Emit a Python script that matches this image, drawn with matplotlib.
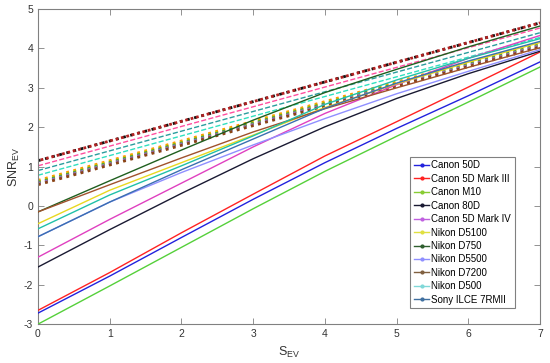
import matplotlib
matplotlib.use("Agg")
import matplotlib.pyplot as plt
from matplotlib.lines import Line2D

plt.rcParams['font.family'] = ['Liberation Sans', 'DejaVu Sans']
plt.rcParams['axes.unicode_minus'] = False

# ===== data =====
s_ev = [0, 1, 2, 3, 4, 5, 6, 7]

cameras = ["Canon 50D", "Canon 5D Mark III", "Canon M10", "Canon 80D",
           "Canon 5D Mark IV", "Nikon D5100", "Nikon D750", "Nikon D5500",
           "Nikon D7200", "Nikon D500", "Sony ILCE 7RMII"]

snr_canon_50d = [-2.72, -1.78, -0.80, 0.17, 1.10, 1.97, 2.80, 3.66]
snr_canon_5d3 = [-2.65, -1.69, -0.68, 0.30, 1.27, 2.14, 3.02, 3.91]
snr_canon_m10 = [-3.00, -2.03, -1.05, -0.07, 0.88, 1.77, 2.64, 3.53]
snr_canon_80d = [-1.55, -0.60, 0.32, 1.20, 2.01, 2.73, 3.36, 3.93]
snr_canon_5d4 = [-1.30, -0.34, 0.58, 1.50, 2.35, 3.08, 3.75, 4.33]
snr_nikon_d5100 = [-0.45, 0.40, 1.10, 1.80, 2.50, 3.10, 3.65, 4.15]
snr_nikon_d750 = [-0.15, 0.64, 1.42, 2.18, 2.88, 3.47, 4.04, 4.57]
snr_nikon_d5500 = [-0.78, 0.10, 0.85, 1.55, 2.22, 2.85, 3.42, 3.97]
snr_nikon_d7200 = [-0.15, 0.54, 1.22, 1.88, 2.47, 3.00, 3.52, 4.02]
snr_nikon_d500 = [-0.58, 0.28, 1.02, 1.78, 2.58, 3.20, 3.75, 4.25]
snr_sony_7rm2 = [-0.78, 0.10, 0.92, 1.70, 2.48, 3.12, 3.68, 4.18]

# ideal (shot-noise only) lines: values at S_EV = 0 and 7
ideal_x = [0, 7]
ideal_start = [1.15, 1.15, 1.02, 0.90, 0.78, 0.65, 0.62, 0.60, 0.58, 0.56, 0.54]
ideal_end = [4.65, 4.65, 4.52, 4.40, 4.28, 4.15, 4.12, 4.10, 4.08, 4.06, 4.04]

# ===== styles =====
solid_colors = ["#2222dd", "#ff2222", "#55d03a", "#1a1a33", "#e040c0", "#e8d820",
                "#1f5f1f", "#8f8fff", "#a0522d", "#20c0a8", "#3a6fb0"]
legend_colors = ["#2222dd", "#ff2222", "#88cc33", "#1a1a33", "#c060e0", "#e0e040",
                 "#2f5f2f", "#8f8fff", "#806040", "#80d8d8", "#4070a0"]
ideal_colors = ["#111111", "#b22222", "#ff4fa0", "#2a9d9d", "#30e0c0", "#ff9900",
                "#d8c000", "#33aa33", "#808080", "#9966cc", "#8b4513"]
ideal_styles = [":", (1.0, (1.0, 1.0)), "--", "--", "--", ":", ":", ":", ":", ":", ":"]
ideal_widths = [2.0, 2.0, 1.0, 1.0, 1.0, 2.0, 2.0, 2.0, 2.0, 2.0, 2.0]

series = [snr_canon_50d, snr_canon_5d3, snr_canon_m10, snr_canon_80d, snr_canon_5d4,
          snr_nikon_d5100, snr_nikon_d750, snr_nikon_d5500, snr_nikon_d7200,
          snr_nikon_d500, snr_sony_7rm2]

fig = plt.figure(figsize=(5.5, 3.63), dpi=100)
ax = fig.add_axes([0.069, 0.107, 0.913, 0.868])

for i in range(len(ideal_start)):
    ax.plot(ideal_x, [ideal_start[i], ideal_end[i]], color=ideal_colors[i],
            linestyle=ideal_styles[i], linewidth=ideal_widths[i], zorder=2)

for vals, col in zip(series, solid_colors):
    ax.plot(s_ev, vals, color=col, linewidth=1.0, zorder=3)

ax.set_xlim(0, 7)
ax.set_ylim(-3, 5)
ax.set_xticks(range(0, 8))
ax.set_yticks(range(-3, 6))

gray = "#808080"
for sp in ax.spines.values():
    sp.set_color(gray)
    sp.set_linewidth(0.8)
ax.tick_params(axis='both', which='major', direction='in', top=True, right=True,
               length=4, width=0.6, color=gray, labelsize=7.5, labelcolor="#333333")

ax.set_xlabel("S$_{\\mathregular{EV}}$", fontsize=9, color="#333333", labelpad=4)
ax.set_ylabel("SNR$_{\\mathregular{EV}}$", fontsize=9, color="#333333", labelpad=1)

handles = [Line2D([0], [0], color=c, linewidth=1.0, marker='.', markersize=4)
           for c in legend_colors]
leg = ax.legend(handles, cameras, loc="lower right", bbox_to_anchor=(0.95, 0.05),
                fontsize=7, frameon=True, fancybox=False, labelspacing=0.35,
                handlelength=1.6, handletextpad=0.2, borderpad=0.4, borderaxespad=0.0)
leg.get_frame().set_edgecolor(gray)
leg.get_frame().set_linewidth(0.8)
leg.get_frame().set_alpha(1.0)

fig.savefig("out.png", dpi=100)
